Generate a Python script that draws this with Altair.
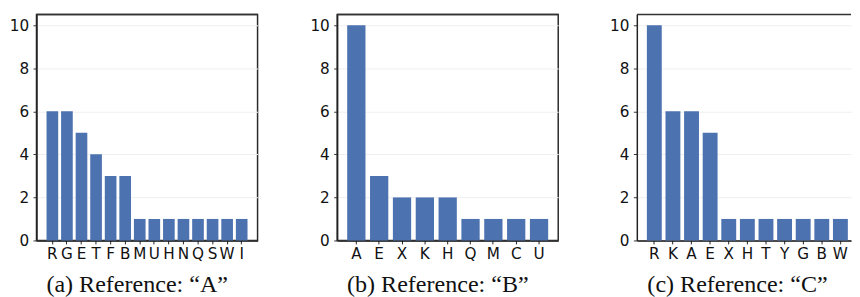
import altair as alt
import pandas as pd

cats_a = ["R", "G", "E", "T", "F", "B", "M", "U", "H", "N", "Q", "S", "W", "I"]
vals_a = [6, 6, 5, 4, 3, 3, 1, 1, 1, 1, 1, 1, 1, 1]
cats_b = ["A", "E", "X", "K", "H", "Q", "M", "C", "U"]
vals_b = [10, 3, 2, 2, 2, 1, 1, 1, 1]
cats_c = ["R", "K", "A", "E", "X", "H", "T", "Y", "G", "B", "W"]
vals_c = [10, 6, 6, 5, 1, 1, 1, 1, 1, 1, 1]
titles = ["(a) Reference: \u201cA\u201d", "(b) Reference: \u201cB\u201d", "(c) Reference: \u201cC\u201d"]
y_ticks = [0, 2, 4, 6, 8, 10]

BAR = "#4c72b0"


def panel(cats, vals, title, width, pad_outer, align, dx, frame=True):
    df = pd.DataFrame({"cat": cats, "val": vals})
    base = alt.Chart(df)
    bars = base.mark_bar(color=BAR).encode(
        x=alt.X("cat:N", sort=cats,
                scale=alt.Scale(paddingInner=0.2, paddingOuter=pad_outer, align=align),
                axis=alt.Axis(title=None, labelAngle=0, labelFont="DejaVu Sans",
                              labelFontSize=15.5, labelColor="#111", tickSize=3.5,
                              tickColor="#222", domainColor="#111", domainWidth=1.5,
                              labelPadding=3, grid=False)),
        y=alt.Y("val:Q", scale=alt.Scale(domain=[0, 10.5], nice=False),
                axis=alt.Axis(title=None, values=y_ticks, labelFont="DejaVu Sans",
                              labelFontSize=15.5, labelColor="#111", tickSize=3.5,
                              tickColor="#333", domainColor="#222", domainWidth=1.5,
                              labelPadding=4.5, grid=True, gridColor="#efefef",
                              gridWidth=1)),
    )
    top = alt.Chart(pd.DataFrame({"t": [10.5]})).mark_rule(
        color="#333", strokeWidth=1.5).encode(y=alt.Y("t:Q"))
    ch = alt.layer(bars, top).properties(
        width=width, height=230,
        title=alt.TitleParams(title, orient="bottom", font="Liberation Serif",
                              fontSize=24.5, fontWeight="normal", color="#111",
                              baseline="alphabetic", offset=30, dx=dx),
    )
    if frame:
        ch = ch.properties(view=alt.ViewBackground(stroke="#2a2a2a", strokeWidth=1.5))
    else:
        ch = ch.properties(view=alt.ViewBackground(stroke=None))
    return ch


pa = panel(cats_a, vals_a, titles[0], 225, 0.69, 0.5, -10)
pb = panel(cats_b, vals_b, titles[1], 225, 0.44, 0.5, -10)
pc = panel(cats_c, vals_c, titles[2], 218, 0.355, 0.76, -6.5, frame=False)

chart = alt.hconcat(pa, pb, pc, spacing=50).properties(
    padding={"left": 0, "top": 2, "right": 0, "bottom": 0}
).configure(background="white")

chart.save("out.html", embed_options={"renderer": "svg", "actions": False})
